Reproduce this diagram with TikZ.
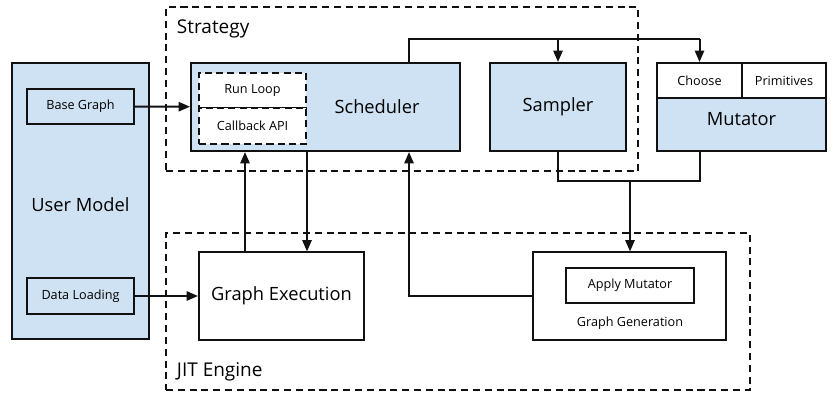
\documentclass[tikz,border=0pt]{standalone}
\usepackage{fontspec}
\setmainfont{Open Sans}
\usetikzlibrary{arrows.meta,calc}
\definecolor{blau}{HTML}{CFE2F3}
\definecolor{linie}{HTML}{111111}
\tikzset{
  box/.style={draw=linie,line width=1.42pt,inner sep=0pt,align=center},
  bbox/.style={box,fill=blau},
  wbox/.style={box,fill=white},
  dbox/.style={box,fill=white,dash pattern=on 5pt off 3pt},
  gruppe/.style={draw=linie,line width=1.3pt,dash pattern=on 5pt off 3.4pt,inner sep=0pt},
  conn/.style={linie,line width=1.42pt},
  arr/.style={conn,-{Triangle[length=8pt,width=6.5pt]}},
  gross/.style={font=\fontsize{13}{15}\selectfont},
  mittel/.style={font=\fontsize{13.5}{16}\selectfont},
  klein/.style={font=\fontsize{9}{11}\selectfont},
}
\begin{document}
\begin{tikzpicture}[x=0.025cm,y=-0.025cm]
  \useasboundingbox (0,0) rectangle (840,400);
  \node[gruppe,minimum width=11.8cm,minimum height=4.1cm] (strategy) at (402,89) {};
  \node[mittel,anchor=west] (strategylbl) at (172,29) {Strategy};
  \node[gruppe,minimum width=14.6cm,minimum height=3.925cm] (jit) at (458,311.5) {};
  \node[mittel,anchor=west] (jitlbl) at (172,372) {JIT Engine};
  \node[bbox,minimum width=3.425cm,minimum height=6.9cm] (usermodel) at (80.5,201) {};
  \node[gross] (usermodellbl) at (80.5,205) {User Model};
  \node[bbox,klein,minimum width=2.675cm,minimum height=0.875cm] (basegraph) at (80.5,106.5) {Base Graph};
  \node[bbox,klein,minimum width=2.675cm,minimum height=0.875cm] (dataload) at (80.5,296) {Data Loading};
  \node[bbox,minimum width=6.725cm,minimum height=2.2cm] (sched) at (325.5,107) {};
  \node[gross] (schedlbl) at (377,107) {Scheduler};
  \node[dbox,klein,minimum width=2.675cm,minimum height=0.875cm] (runloop) at (252.5,90.5) {Run Loop};
  \node[dbox,klein,minimum width=2.675cm,minimum height=0.9cm] (callback) at (252.5,126) {Callback API};
  \node[bbox,gross,minimum width=3.4cm,minimum height=2.2cm] (sampler) at (558,107) {Sampler};
  \node[bbox,minimum width=4.225cm,minimum height=2.2cm] (mutator) at (741.5,107) {};
  \node[gross] (mutatorlbl) at (741.5,119) {Mutator};
  \node[wbox,klein,minimum width=2.125cm,minimum height=0.875cm] (choose) at (699.5,80.5) {Choose};
  \node[wbox,klein,minimum width=2.1cm,minimum height=0.875cm] (prims) at (784,80.5) {Primitives};
  \node[wbox,gross,minimum width=4.125cm,minimum height=2.175cm] (gexec) at (281.5,296) {Graph Execution};
  \node[wbox,minimum width=4.825cm,minimum height=2.175cm] (ggen) at (629.5,296) {};
  \node[wbox,klein,minimum width=3.2cm,minimum height=0.875cm] (apply) at (630,285.5) {Apply Mutator};
  \node[klein] (ggenlbl) at (630,323) {Graph Generation};
  \coordinate (bus) at (409,39);
  \coordinate (merge) at (630,181);
  \draw[arr] (basegraph) -- (sched);
  \draw[arr] (dataload) -- (gexec);
  \draw[arr] ([xshift=-0.9125cm]gexec.north) -- ([xshift=-0.9125cm]gexec.north |- sched.south);
  \draw[arr] ([xshift=0.6375cm]gexec.north |- sched.south) -- ([xshift=0.6375cm]gexec.north);
  \draw[arr] (ggen.west) -| ([xshift=2.0875cm]sched.south);
  \draw[conn] ([xshift=2.0875cm]sched.north) |- (choose.north |- bus);
  \draw[arr] (sampler.north |- bus) -- (sampler.north);
  \draw[arr] (choose.north |- bus) -- (choose.north);
  \draw[conn] (sampler.south) |- (choose.south |- merge) -- (choose.south |- mutator.south);
  \draw[arr] (merge) -- (merge |- ggen.north);
\end{tikzpicture}
\end{document}
